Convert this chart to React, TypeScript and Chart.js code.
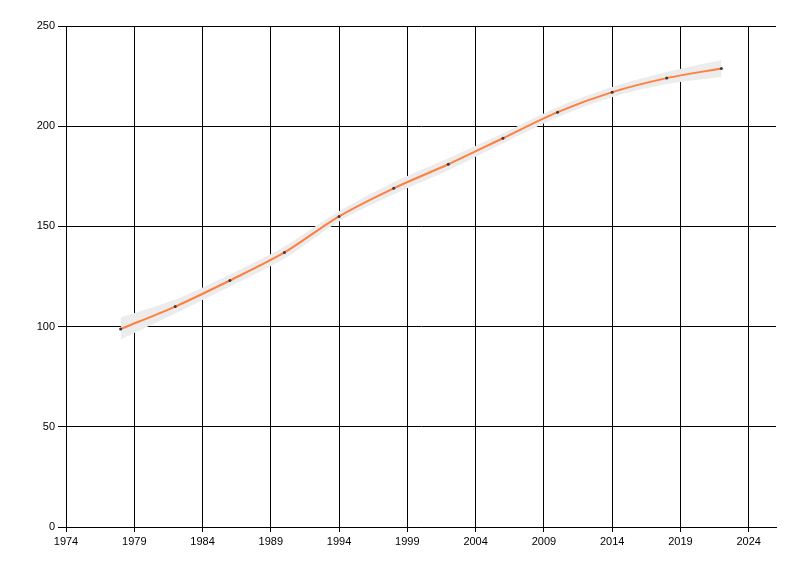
import React, { useEffect, useRef } from "react";
import { Chart, registerables } from "chart.js";

Chart.register(...registerables);

const years = [1978, 1982, 1986, 1990, 1994, 1998, 2002, 2006, 2010, 2014, 2018, 2022];
const values = [98.8, 110, 123, 137, 155, 169, 181, 194, 207, 217, 224, 228.8];
const upperBand = [104.5, 113.5, 126, 140, 157.5, 172, 184, 196.5, 209.5, 219.5, 227, 233];
const lowerBand = [93.5, 106.5, 120, 134, 152.5, 166, 178, 191.5, 204.5, 214.5, 221, 224.5];
const xTickValues = [1974, 1979, 1984, 1989, 1994, 1999, 2004, 2009, 2014, 2019, 2024];
const yTickValues = [0, 50, 100, 150, 200, 250];

export default function App() {
  const ref = useRef<HTMLCanvasElement | null>(null);

  useEffect(() => {
    if (!ref.current) return;
    const pts = (arr: number[]) => years.map((yr, i) => ({ x: yr, y: arr[i] }));
    const font = { family: "'Liberation Sans', Arial, sans-serif", size: 11 };
    const chart = new Chart(ref.current, {
      type: "line",
      data: {
        datasets: [
          {
            data: pts(upperBand),
            borderColor: "rgba(0,0,0,0)",
            borderWidth: 0,
            pointRadius: 0,
            tension: 0.3,
            fill: false,
            order: 3,
          },
          {
            data: pts(lowerBand),
            borderColor: "rgba(0,0,0,0)",
            backgroundColor: "#ececec",
            borderWidth: 0,
            pointRadius: 0,
            tension: 0.3,
            fill: "-1",
            order: 2,
          },
          {
            data: pts(values),
            borderColor: "#ff7f3f",
            borderWidth: 2,
            pointRadius: 1.5,
            pointBorderWidth: 0,
            pointBackgroundColor: "#3a3a3a",
            tension: 0.3,
            fill: false,
            order: 1,
          },
        ],
      },
      options: {
        responsive: false,
        animation: false,
        devicePixelRatio: 1,
        layout: { padding: { left: 0, top: 26, right: 24, bottom: 0 } },
        plugins: { legend: { display: false }, tooltip: { enabled: false } },
        scales: {
          x: {
            type: "linear",
            min: 1974,
            max: 2026,
            afterBuildTicks: (s: any) => {
              s.ticks = xTickValues.map((v) => ({ value: v }));
            },
            afterFit: (s: any) => {
              s.height = 49;
            },
            grid: { color: "#000", lineWidth: 1, tickLength: 5, drawTicks: true },
            border: { color: "#000", width: 1 },
            ticks: { color: "#000", font, padding: 3, maxRotation: 0, autoSkip: false, callback: (v: any) => String(v) },
          },
          y: {
            type: "linear",
            min: 0,
            max: 250,
            afterBuildTicks: (s: any) => {
              s.ticks = yTickValues.map((v) => ({ value: v }));
            },
            afterFit: (s: any) => {
              s.width = 66;
            },
            grid: { color: "#000", lineWidth: 1, tickLength: 8, drawTicks: true },
            border: { color: "#000", width: 1 },
            ticks: { color: "#000", font, padding: 3, callback: (v: any) => String(v) },
          },
        },
      },
    } as any);
    return () => chart.destroy();
  }, []);

  return (
    <div style={{ position: "fixed", left: 0, top: 0, width: 800, height: 576, background: "#fff" }}>
      <canvas ref={ref} width={800} height={576} />
    </div>
  );
}
